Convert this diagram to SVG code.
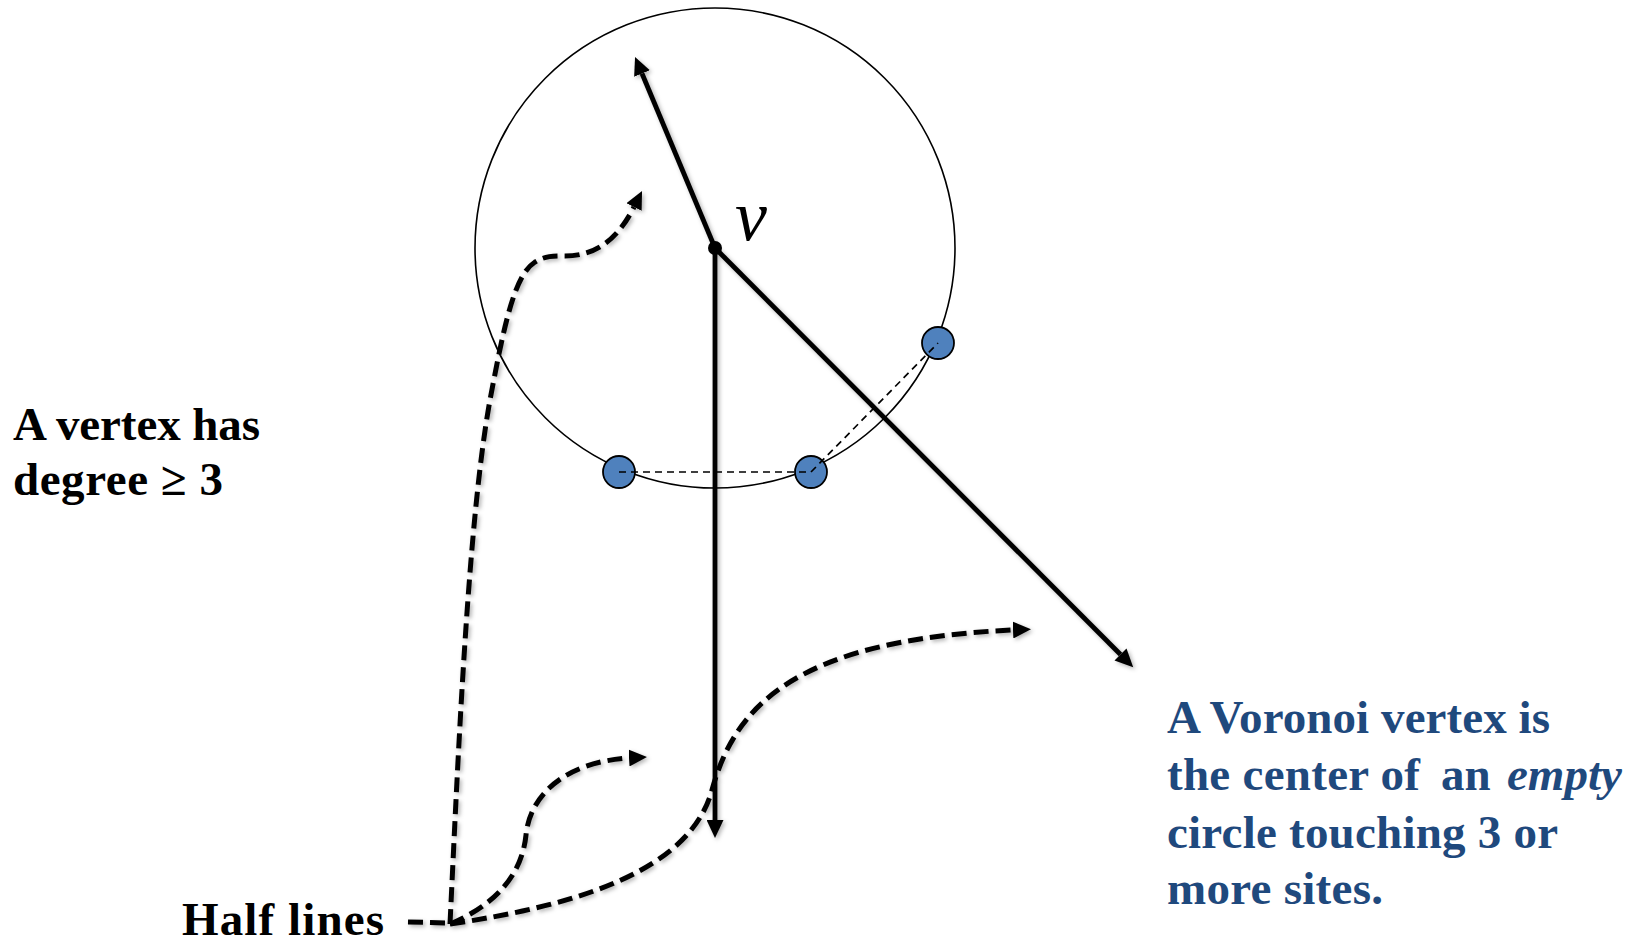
<svg xmlns="http://www.w3.org/2000/svg" width="1643" height="944" viewBox="0 0 1643 944">
  <style>
    .lbl { font-family: "Liberation Serif", "Times New Roman", serif; font-weight: bold; font-size: 47px; fill: #000; }
    .blue { fill: #1F497D; }
    .thick { stroke: #000; stroke-width: 4.8; fill: none; }
    .dash { stroke: #000; stroke-width: 5; fill: none; stroke-dasharray: 15 7; }
    .thin { stroke: #000; stroke-width: 1.6; fill: none; }
    .thindash { stroke: #000; stroke-width: 1.7; fill: none; stroke-dasharray: 7 5; }
    .site { fill: #4F81BD; stroke: #000; stroke-width: 1.8; }
  </style>
  <defs>
    <marker id="arr" markerUnits="userSpaceOnUse" markerWidth="19" markerHeight="17" refX="0" refY="8.5" orient="auto">
      <path d="M0,0 L18,8.5 L0,17 z" fill="#000"/>
    </marker>
    <filter id="sh" x="-10%" y="-10%" width="120%" height="120%">
      <feDropShadow dx="2" dy="2" stdDeviation="2" flood-color="#000" flood-opacity="0.3"/>
    </filter>
  </defs>

  <rect width="1643" height="944" fill="#fff"/>

  <g id="circle">
    <circle cx="715" cy="248" r="240" class="thin"/>
  </g>

  <g id="connectors">
    <g filter="url(#sh)">
      <line class="thick" x1="715" y1="248" x2="642" y2="73.5" marker-end="url(#arr)"/>
      <line class="thick" x1="715" y1="248" x2="715" y2="820" marker-end="url(#arr)"/>
      <line class="thick" x1="715" y1="248" x2="1120.5" y2="654.5" marker-end="url(#arr)"/>
      <path class="dash" d="M450,924 C458,760 468,520 490,400 C505,320 515,275 535,262 C545,256 552,256 565,256 C590,256 615,245 634,207" marker-end="url(#arr)"/>
      <path class="dash" d="M450,924 C495,905 522,875 526,835 C530,795 565,762 629,758" marker-end="url(#arr)"/>
      <path class="dash" d="M450,924 C580,905 690,870 712,790 C734,710 790,640 1013,630" marker-end="url(#arr)"/>
      <path class="dash" d="M408,922 L450,923"/>
    </g>
  </g>

  <g id="sites">
    <circle class="site" cx="619" cy="472" r="16"/>
    <circle class="site" cx="811" cy="472" r="16"/>
    <circle class="site" cx="938" cy="343" r="16"/>
  </g>
  <g id="site-links">
    <line class="thindash" x1="619" y1="472" x2="811" y2="472"/>
    <line class="thindash" x1="811" y1="472" x2="938" y2="343"/>
  </g>

  <g id="vertex">
    <circle cx="715" cy="248" r="7" fill="#000"/>
    <text x="735" y="240" font-family="Liberation Serif, serif" font-style="italic" font-size="72">v</text>
  </g>

  <g id="label-degree">
    <text class="lbl" x="13" y="440" textLength="247" lengthAdjust="spacing">A vertex has</text>
    <text class="lbl" x="13" y="495" textLength="210" lengthAdjust="spacing">degree ≥ 3</text>
  </g>

  <g id="label-halflines">
    <text class="lbl" x="182" y="935" textLength="202" lengthAdjust="spacing">Half lines</text>
  </g>

  <g id="label-voronoi">
    <text class="lbl blue" x="1167" y="733" textLength="383" lengthAdjust="spacing">A Voronoi vertex is</text>
    <text class="lbl blue" y="790"><tspan x="1167" textLength="253" lengthAdjust="spacing">the center of</tspan><tspan x="1441">an</tspan><tspan x="1507" font-style="italic">empty</tspan></text>
    <text class="lbl blue" x="1167" y="848" textLength="391" lengthAdjust="spacing">circle touching 3 or</text>
    <text class="lbl blue" x="1167" y="904" textLength="216" lengthAdjust="spacing">more sites.</text>
  </g>
</svg>
